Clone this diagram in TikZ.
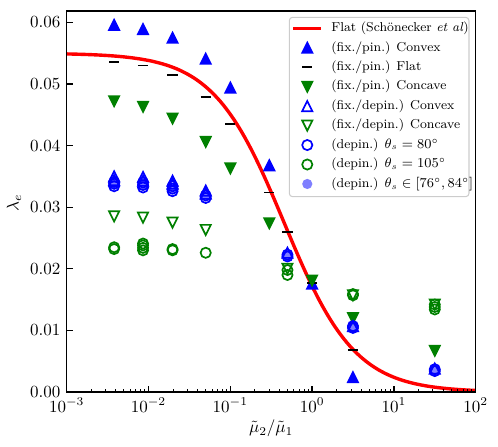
\documentclass[tikz,border=0pt]{standalone}
\usepackage{amsmath,amsfonts}
\usepackage{tikz}

\definecolor{mplgreen}{rgb}{0,0.5,0}

\begin{document}
\begin{tikzpicture}[x=1.6918cm, y=1.274cm,
    convex/.pic={\path[pic actions] (0,3pt) -- (-3pt,-3pt) -- (3pt,-3pt) -- cycle;},
    concave/.pic={\path[pic actions] (0,-3pt) -- (-3pt,3pt) -- (3pt,3pt) -- cycle;},
    ring/.pic={\path[pic actions] (0,0) circle (3pt);},
    bar/.pic={\path[pic actions] (-3pt,0) -- (3pt,0);},
    pinvex/.style={draw=blue, fill=blue, line width=1pt},
    pinflat/.style={draw=black, line width=1pt},
    pincave/.style={draw=mplgreen, fill=mplgreen, line width=1pt},
    depvex/.style={draw=blue, line width=1pt},
    depcave/.style={draw=mplgreen, line width=1pt},
    ringA/.style={draw=blue, line width=1pt},
    ringB/.style={draw=mplgreen, line width=1pt},
    band/.style={fill=blue, fill opacity=0.5},
    flatfit/.style={red, line width=2pt},
    majtick/.style={line width=0.8pt},
    mintick/.style={line width=0.6pt},
    lbl/.style={inner sep=0pt},
    legtext/.style={inner sep=0pt, anchor=west, font=\fontsize{7.6}{9}\selectfont}]

    \useasboundingbox (-0.8154,-0.8929) rectangle (5.2726,6.3636);

    % theory curve
    \draw[flatfit] plot[domain=0:5, samples=150] (\x, {5.5/(1+2.2*exp(2.302585*(\x-3)))});

    % fix./pin.
    \foreach \a/\b in {0.0038/5.96, 0.0084/5.89, 0.0195/5.75, 0.05/5.41, 0.1/4.94, 0.3/3.68, 1/1.76, 3.16/0.24}
        \pic[pinvex] at ({log10(\a)+3},\b) {convex};
    \foreach \a/\b in {0.0038/5.36, 0.0084/5.30, 0.0195/5.15, 0.05/4.79, 0.1/4.35, 0.3/3.24, 0.5/2.60, 1/1.77, 3.16/0.68}
        \pic[pinflat] at ({log10(\a)+3},\b) {bar};
    \foreach \a/\b in {0.0038/4.72, 0.0084/4.63, 0.0195/4.44, 0.05/4.06, 0.1/3.63, 0.3/2.74, 1/1.81, 3.16/1.20, 31.6/0.67}
        \pic[pincave] at ({log10(\a)+3},\b) {concave};

    % fix./depin.
    \foreach \a/\b in {0.0038/3.50, 0.0038/3.44, 0.0084/3.49, 0.0084/3.43, 0.0195/3.43, 0.0195/3.38, 0.05/3.27, 0.05/3.22, 0.5/2.26, 3.16/1.07, 31.6/0.38}
        \pic[depvex] at ({log10(\a)+3},\b) {convex};
    \foreach \a/\b in {0.0038/2.85, 0.0084/2.83, 0.0195/2.75, 0.05/2.63, 0.5/2.00, 3.16/1.57, 31.6/1.42}
        \pic[depcave] at ({log10(\a)+3},\b) {concave};

    % depin.
    \foreach \a/\b in {0.0038/3.34, 0.0038/3.38, 0.0038/3.41, 0.0084/3.32, 0.0084/3.36, 0.0084/3.40, 0.0195/3.26, 0.0195/3.30, 0.0195/3.34, 0.05/3.15, 0.05/3.19, 0.5/2.20, 0.5/2.23, 3.16/1.04, 3.16/1.07, 31.6/0.34, 31.6/0.37}
        \pic[ringA] at ({log10(\a)+3},\b) {ring};
    \foreach \a/\b in {0.0038/2.32, 0.0038/2.35, 0.0084/2.30, 0.0084/2.34, 0.0084/2.38, 0.0084/2.41, 0.0195/2.30, 0.0195/2.32, 0.05/2.26, 0.5/1.90, 0.5/1.98, 3.16/1.57, 3.16/1.59, 31.6/1.34, 31.6/1.38, 31.6/1.42}
        \pic[ringB] at ({log10(\a)+3},\b) {ring};
    \foreach \a/\b in {0.0038/3.37, 0.0084/3.36, 0.0195/3.31, 0.05/3.18, 0.5/2.21, 3.16/1.05, 31.6/0.36}
        \pic[band] at ({log10(\a)+3},\b) {ring};

    % axes
    \draw[line width=0.8pt] (0,0) rectangle (5,6.185);
    \foreach \d in {0,...,4}
        \foreach \k in {2,...,9}
            \draw[mintick] ({\d+log10(\k)},0) -- ++(0,2pt);
    \foreach \d [evaluate=\d as \e using int(\d-3)] in {0,...,5} {
        \draw[majtick] (\d,0) -- ++(0,3.5pt);
        \node[lbl, anchor=north] (xl\d) at ([yshift=-3.5pt]\d,0) {$10^{\e}$};
    }
    \foreach \v in {0,...,6} {
        \draw[majtick] (0,\v) -- ++(3.5pt,0);
        \node[lbl, anchor=east] (yl\v) at ([xshift=-3.5pt]0,\v) {$0.0\v$};
    }
    \node[lbl] (xlab) at (2.5,-0.589) {$\tilde{\mu}_2/\tilde{\mu}_1$};
    \node[lbl, rotate=90] (ylab) at (-0.644,3.07) {$\lambda_e$};

    % legend
    \draw[draw=black!20, fill=white, fill opacity=0.8, line width=0.6pt, rounded corners=2pt] (2.721,3.170) rectangle (4.918,6.083);
    \draw[flatfit] (2.770,5.904) -- (3.109,5.904);
    \pic[pinvex] at (2.941,5.588) {convex};
    \pic[pinflat] at (2.941,5.272) {bar};
    \pic[pincave] at (2.941,4.956) {concave};
    \pic[depvex] at (2.941,4.641) {convex};
    \pic[depcave] at (2.941,4.325) {concave};
    \pic[ringA] at (2.941,4.009) {ring};
    \pic[ringB] at (2.941,3.693) {ring};
    \pic[band] at (2.941,3.377) {ring};
    \node[legtext] (lg1) at (3.231,5.904) {Flat (Sch\"onecker \textit{et al})};
    \node[legtext] (lg2) at (3.231,5.588) {(fix./pin.) Convex};
    \node[legtext] (lg3) at (3.231,5.272) {(fix./pin.) Flat};
    \node[legtext] (lg4) at (3.231,4.956) {(fix./pin.) Concave};
    \node[legtext] (lg5) at (3.231,4.641) {(fix./depin.) Convex};
    \node[legtext] (lg6) at (3.231,4.325) {(fix./depin.) Concave};
    \node[legtext] (lg7) at (3.231,4.009) {(depin.) $\theta_s = 80^\circ$};
    \node[legtext] (lg8) at (3.231,3.693) {(depin.) $\theta_s = 105^\circ$};
    \node[legtext] (lg9) at (3.231,3.377) {(depin.) $\theta_s \in [76^\circ, 84^\circ]$};
\end{tikzpicture}
\end{document}
